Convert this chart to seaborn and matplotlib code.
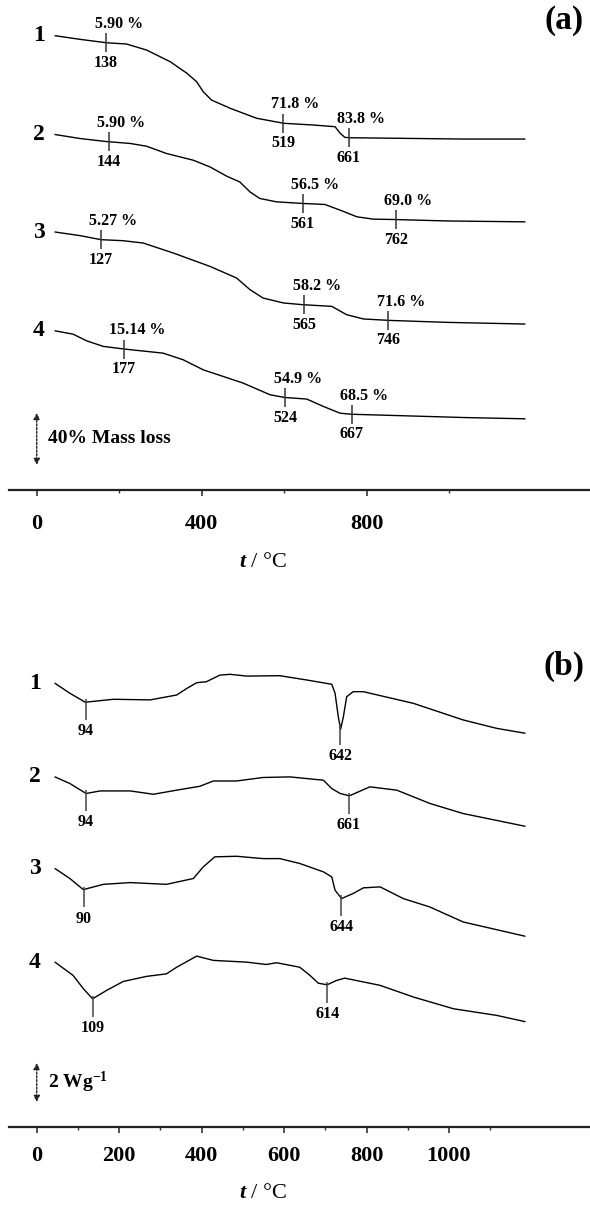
import numpy as np
import pandas as pd
import matplotlib
matplotlib.use("Agg")
import matplotlib.pyplot as plt
import seaborn as sns

# ---- TG curves (temperature in degC, mass loss in %) ----
tg_t1 = [28, 82, 138, 182, 225, 276, 312, 333, 347, 365, 405, 462, 521, 584, 631, 642, 652, 663, 764, 907, 1040]
tg_l1 = [0, 2.8, 5.4, 6.4, 11, 20, 28.9, 35.4, 43, 49.5, 55.8, 63.5, 67.4, 68.7, 70, 75, 78.2, 78.5, 78.9, 79.5, 79.5]
tg_t2 = [28, 82, 138, 190, 225, 268, 326, 362, 398, 426, 448, 469, 505, 564, 609, 642, 678, 713, 759, 871, 1040]
tg_l2 = [0, 3.1, 5.4, 6.9, 9, 14.6, 19.8, 25, 32.1, 36.5, 44.2, 49.2, 51.8, 53.1, 53.8, 58.2, 63.3, 65.1, 65.4, 66.5, 67.2]
tg_t3 = [28, 82, 127, 175, 218, 283, 362, 419, 448, 476, 520, 561, 624, 656, 692, 748, 871, 1040]
tg_l3 = [0, 2.8, 5.9, 6.7, 8.5, 16.2, 26.5, 35.4, 44.4, 50.8, 54.6, 55.9, 57.2, 63.6, 66.9, 68, 69.5, 70.8]
tg_t4 = [28, 67, 96, 132, 179, 261, 304, 347, 433, 491, 523, 570, 606, 642, 667, 764, 907, 1040]
tg_l4 = [0, 2.6, 7.7, 12, 14.1, 17.2, 22.3, 30, 40.2, 49.2, 51.3, 52.5, 58.2, 63.4, 64.2, 65.2, 66.7, 67.7]
tg_offsets = [0, 76, 151, 227]

tg_marks = [[138, 519, 661], [144, 561, 762], [127, 565, 746], [177, 524, 667]]
tg_pct = [["5.90 %", "71.8 %", "83.8 %"],
          ["5.90 %", "56.5 %", "69.0 %"],
          ["5.27 %", "58.2 %", "71.6 %"],
          ["15.14 %", "54.9 %", "68.5 %"]]

# ---- DSC curves (temperature in degC, heat flow in W/g, relative) ----
dsc_t1 = [28, 60, 93, 154, 233, 290, 312, 333, 354, 383, 405, 441, 512, 570, 624, 631, 638, 643, 649, 656, 670, 692, 800, 907, 979, 1040]
dsc_h1 = [0, -0.51, -0.97, -0.82, -0.85, -0.6, -0.26, 0.03, 0.08, 0.42, 0.46, 0.37, 0.39, 0.17, -0.05, -0.51, -1.71, -2.36, -1.71, -0.69, -0.43, -0.43, -1.03, -1.88, -2.31, -2.56]
dsc_t2 = [28, 60, 95, 125, 190, 240, 290, 340, 369, 419, 476, 534, 606, 624, 642, 662, 681, 706, 764, 835, 907, 1040]
dsc_h2 = [0, -0.34, -0.85, -0.72, -0.72, -0.89, -0.68, -0.48, -0.21, -0.21, -0.03, 0, -0.17, -0.6, -0.85, -0.97, -0.77, -0.51, -0.68, -1.36, -1.88, -2.53]
dsc_t3 = [28, 60, 89, 132, 190, 268, 326, 347, 372, 419, 476, 512, 555, 606, 624, 631, 645, 670, 692, 728, 778, 835, 907, 1040]
dsc_h3 = [0, -0.51, -1.08, -0.81, -0.72, -0.81, -0.51, 0.08, 0.6, 0.63, 0.51, 0.51, 0.26, -0.17, -0.43, -1.11, -1.54, -1.28, -0.99, -0.94, -1.54, -1.97, -2.74, -3.47]
dsc_t4 = [28, 67, 89, 109, 139, 175, 225, 268, 290, 333, 369, 441, 483, 505, 555, 577, 595, 614, 634, 652, 728, 800, 886, 979, 1040]
dsc_h4 = [0, -0.68, -1.36, -1.88, -1.45, -0.99, -0.73, -0.6, -0.26, 0.31, 0.09, 0, -0.12, -0.03, -0.26, -0.68, -1.08, -1.16, -0.94, -0.82, -1.19, -1.79, -2.39, -2.73, -3.05]
dsc_offsets = [0, 4.8, 9.5, 14.3]
dsc_marks = [[94, 642], [94, 661], [90, 644], [109, 614]]

samples = ["1", "2", "3", "4"]

sns.set_theme(style="white")
plt.rcParams["font.family"] = ["Liberation Serif", "DejaVu Serif"]
plt.rcParams["font.weight"] = "bold"
plt.rcParams["text.color"] = "black"
plt.rcParams["xtick.labelcolor"] = "black"
plt.rcParams["axes.labelcolor"] = "black"
plt.rcParams["mathtext.fontset"] = "custom"
plt.rcParams["mathtext.it"] = "Liberation Serif:italic:bold"
plt.rcParams["mathtext.rm"] = "Liberation Serif:bold"

rows = []
for s, t, l, off in zip(samples, [tg_t1, tg_t2, tg_t3, tg_t4], [tg_l1, tg_l2, tg_l3, tg_l4], tg_offsets):
    for ti, li in zip(t, l):
        rows.append({"sample": s, "T": ti, "y": -(off + li)})
df_tg = pd.DataFrame(rows)

rows = []
for s, t, h, off in zip(samples, [dsc_t1, dsc_t2, dsc_t3, dsc_t4], [dsc_h1, dsc_h2, dsc_h3, dsc_h4], dsc_offsets):
    for ti, hi in zip(t, h):
        rows.append({"sample": s, "T": ti, "y": hi - off})
df_dsc = pd.DataFrame(rows)

fig = plt.figure(figsize=(5.9, 12.05), dpi=100)
ax_a = fig.add_axes([9.3 / 590, 1 - 490 / 1205, 580.7 / 590, 490 / 1205])
ax_b = fig.add_axes([9.3 / 590, 1 - 1127 / 1205, 580.7 / 590, 507 / 1205])


def style_axis(ax, major, minor, pad):
    ax.set_xlim(-66.5, 1342)
    for side in ["top", "right", "left"]:
        ax.spines[side].set_visible(False)
    ax.spines["bottom"].set_linewidth(1.6)
    ax.spines["bottom"].set_color("#222222")
    ax.set_xticks(major)
    ax.set_xticks(minor, minor=True)
    ax.set_yticks([])
    ax.tick_params(axis="x", which="major", direction="out", length=4, width=1.2,
                   color="#333333", labelsize=16, pad=pad, bottom=True)
    ax.tick_params(axis="x", which="minor", direction="out", length=2.5, width=1.0,
                   color="#333333", bottom=True)
    for lab in ax.get_xticklabels():
        lab.set_fontweight("bold")
    ax.set_xlabel("$t$ / °C", fontsize=16, fontweight="normal")
    ax.set_facecolor("white")


style_axis(ax_a, [0, 400, 800], [200, 600, 1000], 13.5)
style_axis(ax_b, [0, 200, 400, 600, 800, 1000], [100, 300, 500, 700, 900, 1100], 10)
ax_a.xaxis.set_label_coords(0.437, -0.129)
ax_b.xaxis.set_label_coords(0.437, -0.113)

ax_a.set_ylim(-(490 - 35.7) / 1.3, 35.7 / 1.3)
ax_b.set_ylim(-(1127 - 683.3) / 19.5, (683.3 - 620) / 19.5)

# curves live on a hidden twin x axis (the original traces are offset from the scale)
cur_a = ax_a.twiny()
cur_b = ax_b.twiny()
for c in (cur_a, cur_b):
    c.set_xlim(-70.4, 1180)
    c.axis("off")

sns.lineplot(data=df_tg, x="T", y="y", units="sample", estimator=None, sort=False,
             color="black", linewidth=1.0, ax=cur_a)
sns.lineplot(data=df_dsc, x="T", y="y", units="sample", estimator=None, sort=False,
             color="black", linewidth=1.0, ax=cur_b)
cur_a.set_ylim(ax_a.get_ylim())
cur_b.set_ylim(ax_b.get_ylim())

lbl = dict(fontsize=11.5, fontweight="bold", ha="center", va="center", color="black")

# TG annotations
for s, grp_t, grp_p in zip(samples, tg_marks, tg_pct):
    d = df_tg[df_tg["sample"] == s]
    cur_a.annotate(s, (d["T"].iloc[0], d["y"].iloc[0]), xytext=(-11.5, 0),
                   textcoords="offset points", fontsize=17, fontweight="bold",
                   ha="center", va="center")
    for tm, ptxt in zip(grp_t, grp_p):
        ym = np.interp(tm, d["T"], d["y"])
        cur_a.vlines(tm, ym - 7.3, ym + 7.3, color="#333333", linewidth=1.1)
        cur_a.annotate(ptxt, (tm, ym), xytext=(9, 13.5), textcoords="offset points", **lbl)
        cur_a.annotate(str(tm), (tm, ym), xytext=(0, -14.5), textcoords="offset points", **lbl)

# DSC annotations
for s, grp_t in zip(samples, dsc_marks):
    d = df_dsc[df_dsc["sample"] == s]
    cur_b.annotate(s, (d["T"].iloc[0], d["y"].iloc[0]), xytext=(-14.4, 0),
                   textcoords="offset points", fontsize=17, fontweight="bold",
                   ha="center", va="center")
    for tm in grp_t:
        ym = np.interp(tm, d["T"], d["y"])
        cur_b.vlines(tm, ym - 0.92, ym + 0.15, color="#444444", linewidth=1.1)
        cur_b.annotate(str(tm), (tm, ym), xytext=(0, -21), textcoords="offset points", **lbl)

# scale bars
arrow = dict(arrowstyle="<|-|>", linestyle=(0, (1.5, 1.2)), color="#222222",
             linewidth=1.0, mutation_scale=9, shrinkA=0, shrinkB=0)
ax_a.annotate("", xy=(0, -290.2), xytext=(0, -330.2), arrowprops=arrow)
ax_a.annotate("40% Mass loss", (0, -310.2), xytext=(8, 0), textcoords="offset points",
              fontsize=14, fontweight="bold", ha="left", va="center")
ax_b.annotate("", xy=(0, -19.47), xytext=(0, -21.47), arrowprops=arrow)
ax_b.annotate("2 Wg$^{\\mathregular{-1}}$", (0, -20.47), xytext=(8, 0), textcoords="offset points",
              fontsize=14, fontweight="bold", ha="left", va="center")

fig.text(564 / 590, 1 - 21 / 1205, "(a)", fontsize=24, fontweight="bold", ha="center", va="center")
fig.text(564 / 590, 1 - 666 / 1205, "(b)", fontsize=24, fontweight="bold", ha="center", va="center")

fig.savefig("out.png", dpi=100, facecolor="white")
